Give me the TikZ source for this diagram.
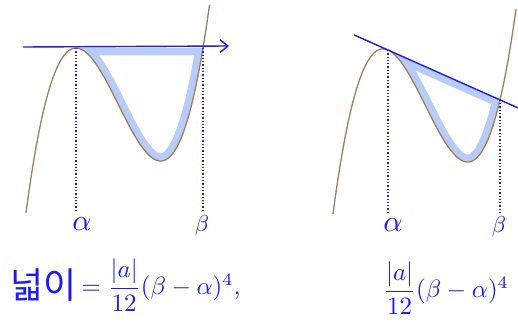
\documentclass[tikz,border=0pt]{standalone}
\usepackage{amsmath}
\usepackage{fontspec}
\newfontfamily\cjk{Noto Sans CJK KR}
\usetikzlibrary{arrows.meta}
\definecolor{curvebrown}{RGB}{160,128,92}
\definecolor{penblue}{RGB}{28,28,240}
\definecolor{bandblue}{RGB}{184,204,250}
\begin{document}
\begin{tikzpicture}[x=1pt,y=-1pt,
  curve/.style={draw=curvebrown,line width=1.3pt},
  tline/.style={draw=penblue,line width=1.4pt},
  guide/.style={draw=penblue,line width=1.3pt,dash pattern=on 1.3pt off 2pt},
  band/.style={draw=bandblue,line width=15pt,line join=round},
  lbl/.style={text=penblue,inner sep=0pt,transform shape},
  ]
\useasboundingbox (0,0) rectangle (518,323);
\fill[white] (0,0) rectangle (518,323);

% ---------- left picture ----------
\coordinate (aL) at (76,48);
\coordinate (bL) at (203,48);
\coordinate (aLb) at (76,211);
\coordinate (bLb) at (203,211);
\coordinate (hl0) at (23,47);
\coordinate (hl1) at (229,46);
\begin{scope}
  \clip plot[domain=76:203,samples=60] (\x,{48+372.4*((\x-76)/100)*((\x-76)/100)*((203-\x)/100)}) -- cycle;
  \draw[band] plot[domain=76:203,samples=60] (\x,{48+372.4*((\x-76)/100)*((\x-76)/100)*((203-\x)/100)}) -- cycle;
\end{scope}
\draw[curve] plot[domain=26:209.5,samples=120,smooth] (\x,{48+372.4*((\x-76)/100)*((\x-76)/100)*((203-\x)/100)});
\draw[tline,-{Straight Barb[length=8pt,width=13pt]}] (hl0) -- (hl1);
\draw[guide] (aL) -- (aLb);
\draw[guide] (bL) -- (bLb);
\node[lbl,scale=3] (alphaL) at (82,224) {$\alpha$};
\node[lbl,scale=2.3] (betaL) at (202,226) {$\beta$};

% ---------- right picture ----------
\coordinate (aR) at (388,50);
\coordinate (bR) at (500,99.8);
\coordinate (aRb) at (388,213);
\coordinate (bRb) at (500,213);
\coordinate (tl0) at (354,34.9);
\coordinate (tl1) at (518,107.9);
\begin{scope}
  \clip plot[domain=388:500,samples=60] (\x,{50+0.445*(\x-388)+373*((\x-388)/100)*((\x-388)/100)*((500-\x)/100)}) -- cycle;
  \draw[band] plot[domain=388:500,samples=60] (\x,{50+0.445*(\x-388)+373*((\x-388)/100)*((\x-388)/100)*((500-\x)/100)}) -- cycle;
\end{scope}
\draw[curve] plot[domain=333:516,samples=120,smooth] (\x,{50+0.445*(\x-388)+373*((\x-388)/100)*((\x-388)/100)*((500-\x)/100)});
\draw[tline] (tl0) -- (tl1);
\draw[guide] (aR) -- (aRb);
\draw[guide] (bR) -- (bRb);
\node[lbl,scale=3] (alphaR) at (393,225) {$\alpha$};
\node[lbl,scale=2.3] (betaR) at (499,227) {$\beta$};

% ---------- formulas ----------
\node[lbl,anchor=west,font=\cjk\fontsize{36}{40}\selectfont] (areaword) at (10,285) {넓이};
\node[lbl,anchor=west,scale=2.5] (areaL) at (areaword.east) {$\,=\dfrac{|a|}{12}(\beta-\alpha)^4$,};
\node[lbl,scale=2.5] (areaR) at (446,288) {$\dfrac{|a|}{12}(\beta-\alpha)^4$};
\end{tikzpicture}
\end{document}
